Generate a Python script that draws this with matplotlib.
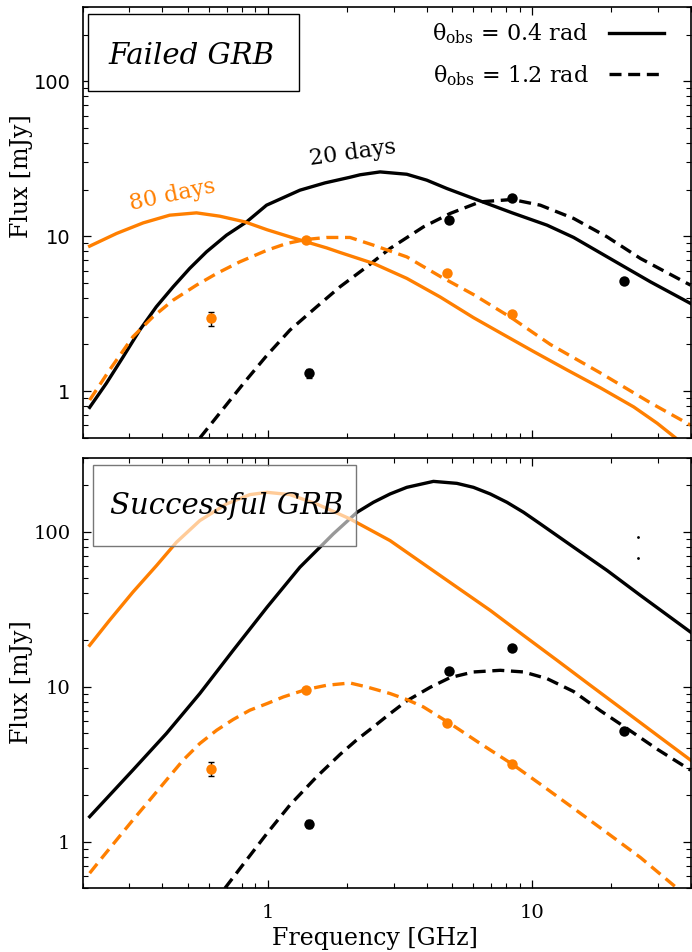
import numpy as np
import matplotlib
matplotlib.use("Agg")
import matplotlib.pyplot as plt
from matplotlib.lines import Line2D
from matplotlib.patches import Rectangle
from matplotlib.ticker import FixedLocator, LogLocator, FuncFormatter, NullFormatter

plt.rcParams["font.family"] = ["DejaVu Serif"]
plt.rcParams["mathtext.fontset"] = "dejavuserif"

# =========================
# Data
# =========================

# measured fluxes [mJy]
obs80_freq = [0.61, 1.4, 4.8, 8.4]
obs80_flux = [2.95, 9.5, 5.8, 3.15]
obs80_err = [0.3, 0.12, 0.08, 0.06]

obs20_freq = [1.43, 4.86, 8.46, 22.4]
obs20_flux = [1.3, 12.7, 17.7, 5.15]
obs20_err = [0.08, 0.1, 0.1, 0.06]

# failed GRB models
fail_04_20_freq = [0.212, 0.245, 0.284, 0.328, 0.379, 0.439, 0.507, 0.587, 0.699, 0.833, 0.991,
                   1.326, 1.649, 2.051, 2.239, 2.667, 3.366, 4.009, 4.773, 6.02, 8.44,
                   11.43, 14.42, 22.45, 28.18, 39.94]
fail_04_20_flux = [0.785, 1.12, 1.665, 2.475, 3.50, 4.71, 6.19, 7.92, 10.15, 12.37, 15.85,
                   19.81, 22.07, 24.0, 24.9, 25.99, 25.1, 22.98, 20.31, 17.51, 14.14,
                   11.78, 9.81, 6.34, 5.07, 3.68]

fail_12_20_freq = [0.555, 0.820, 0.996, 1.215, 1.534, 1.880, 2.374, 2.909, 3.891, 4.91, 6.38,
                   8.44, 10.78, 14.42, 19.30, 25.81, 39.94]
fail_12_20_flux = [0.5, 1.148, 1.707, 2.475, 3.50, 4.71, 6.34, 8.33, 11.48, 14.01, 16.65,
                   17.25, 15.85, 13.01, 9.90, 7.18, 4.83]

fail_04_80_freq = [0.212, 0.268, 0.338, 0.426, 0.538, 0.659, 0.820, 0.996, 1.215, 1.397, 1.674,
                   1.880, 2.516, 3.366, 4.503, 6.02, 7.6, 10.17, 13.61, 18.2, 24.35, 29.87, 35.0]
fail_04_80_flux = [8.62, 10.41, 12.18, 13.66, 14.14, 13.46, 12.37, 11.0, 9.90, 9.2, 8.4,
                   7.85, 6.67, 5.34, 4.05, 2.98, 2.38, 1.80, 1.37, 1.05, 0.79, 0.62, 0.5]

fail_12_80_freq = [0.212, 0.252, 0.309, 0.368, 0.439, 0.538, 0.642, 0.785, 0.996, 1.181, 1.397,
                   1.674, 2.051, 2.516, 3.366, 4.503, 6.02, 8.44, 11.77, 18.2, 28.17, 39.94]
fail_12_80_flux = [0.875, 1.366, 2.24, 3.015, 3.865, 4.83, 5.745, 6.83, 8.12, 8.97, 9.52,
                   9.81, 9.81, 8.75, 7.35, 5.5, 4.2, 2.95, 2.0, 1.31, 0.84, 0.603]

# successful GRB models
succ_04_20_freq = [0.212, 0.309, 0.414, 0.554, 0.741, 0.996, 1.326, 1.774, 2.18, 2.516, 2.909,
                   3.366, 4.246, 5.208, 6.02, 6.97, 8.06, 9.32, 10.78, 14.42, 19.30, 25.81, 39.94]
succ_04_20_flux = [1.449, 2.895, 4.99, 9.03, 17.16, 32.6, 59.0, 96.8, 133.3, 154.7, 175.1,
                   193.2, 211.1, 205.0, 193.2, 175.1, 154.7, 133.3, 112.3, 79.4, 56.2, 38.8, 22.5]

succ_12_20_freq = [0.689, 0.833, 0.996, 1.215, 1.534, 1.880, 2.18, 2.516, 2.909, 3.366, 4.126,
                   4.91, 6.02, 7.60, 9.32, 11.43, 14.42, 18.20, 22.31, 29.87, 39.94]
succ_12_20_flux = [0.5, 0.7625, 1.133, 1.723, 2.621, 3.65, 4.55, 5.5, 6.7, 8.1, 9.9,
                   11.44, 12.44, 12.75, 12.44, 11.27, 9.3, 7.0, 5.55, 3.95, 2.895]

succ_04_80_freq = [0.212, 0.252, 0.309, 0.380, 0.452, 0.554, 0.699, 0.857, 0.996, 1.215, 1.534,
                   2.051, 2.909, 3.891, 5.208, 6.97, 9.32, 12.47, 16.68, 22.31, 29.87, 39.94]
succ_04_80_flux = [18.48, 26.77, 40.73, 60.5, 85.5, 117.9, 151.0, 173.4, 179.4, 173.4, 151.0,
                   120.9, 87.6, 62.0, 43.85, 31.05, 21.4, 14.8, 10.2, 7.05, 4.86, 3.36]

succ_12_80_freq = [0.212, 0.238, 0.268, 0.309, 0.358, 0.414, 0.479, 0.554, 0.642, 0.741, 0.857,
                   0.996, 1.146, 1.397, 1.674, 2.051, 2.374, 2.909, 3.366, 3.891, 4.91, 6.38,
                   8.44, 10.78, 14.42, 19.30, 25.81, 35.56]
succ_12_80_flux = [0.626, 0.8005, 1.025, 1.379, 1.856, 2.497, 3.358, 4.30, 5.24, 6.14, 7.05,
                   7.78, 8.58, 9.58, 10.21, 10.56, 9.96, 9.03, 8.26, 7.40, 5.785, 4.30,
                   3.164, 2.35, 1.64, 1.14, 0.79, 0.5]

# two stray specks in the lower panel
speck_freq = [25.3, 25.3]
speck_flux = [92, 67.8]

ORANGE = "#ff7f00"
LW = 2.4
DASH = (0, (3.6, 2.0))

# =========================
# Figure
# =========================

fig = plt.figure(figsize=(6.92, 9.52), dpi=100)
ax1 = fig.add_axes([0.1199, 0.5402, 0.8782, 0.4521])
ax2 = fig.add_axes([0.1199, 0.0669, 0.8782, 0.4523])


def style(ax):
    ax.set_xscale("log")
    ax.set_yscale("log")
    ax.set_xlim(0.2, 40)
    ax.set_ylim(0.5, 300)
    ax.xaxis.set_major_locator(FixedLocator([1, 10]))
    ax.yaxis.set_major_locator(FixedLocator([1, 10, 100]))
    ax.xaxis.set_minor_locator(LogLocator(subs=np.arange(2, 10)))
    ax.yaxis.set_minor_locator(LogLocator(subs=np.arange(2, 10)))
    fmt = FuncFormatter(lambda v, p: f"{v:g}")
    ax.xaxis.set_major_formatter(fmt)
    ax.yaxis.set_major_formatter(fmt)
    ax.xaxis.set_minor_formatter(NullFormatter())
    ax.yaxis.set_minor_formatter(NullFormatter())
    ax.tick_params(which="both", direction="in", top=True, right=True,
                   labelsize=14, pad=9)
    ax.tick_params(axis="x", pad=11)
    ax.tick_params(which="major", length=6, width=0.9)
    ax.tick_params(which="minor", length=3.5, width=0.8)
    for s in ax.spines.values():
        s.set_linewidth(1.2)
    ax.set_ylabel("Flux [mJy]", fontsize=17)


def data_points(ax):
    ax.errorbar(obs80_freq, obs80_flux, yerr=obs80_err, fmt="o", color=ORANGE,
                ms=7.5, mec="none", ecolor="k", elinewidth=1, capsize=2.5, zorder=6)
    ax.errorbar(obs20_freq, obs20_flux, yerr=obs20_err, fmt="o", color="k",
                ms=7.5, mec="none", ecolor="k", elinewidth=1, capsize=2.5, zorder=6)


# ---- top: failed GRB ----
style(ax1)
ax1.plot(fail_04_20_freq, fail_04_20_flux, color="k", lw=LW)
ax1.plot(fail_12_20_freq, fail_12_20_flux, color="k", lw=LW, ls=DASH)
ax1.plot(fail_04_80_freq, fail_04_80_flux, color=ORANGE, lw=LW)
ax1.plot(fail_12_80_freq, fail_12_80_flux, color=ORANGE, lw=LW, ls=DASH)
data_points(ax1)
ax1.tick_params(labelbottom=False)
for t in ax1.get_yticklabels():
    t.set_family("DejaVu Sans")
ax1.yaxis.set_label_coords(-0.083, 0.608)

ax1.text(0.437, 18.4, "80 days", color=ORANGE, fontsize=16, rotation=12,
         ha="center", va="center")
ax1.text(2.10, 34.3, "20 days", color="k", fontsize=16, rotation=8,
         ha="center", va="center")

ax1.add_patch(Rectangle((0.0087, 0.806), 0.347, 0.178, transform=ax1.transAxes,
                        facecolor="white", edgecolor="k", lw=1.0, zorder=4))
ax1.text(0.179, 0.868, "Failed GRB", style="italic", fontsize=21,
         transform=ax1.transAxes, ha="center", va="baseline", zorder=5)

handles = [Line2D([], [], color="k", lw=LW),
           Line2D([], [], color="k", lw=LW, ls=DASH)]
ax1.legend(handles, [r"θ$_{\rm obs}$ = 0.4 rad", r"θ$_{\rm obs}$ = 1.2 rad"],
           loc="upper right", bbox_to_anchor=(0.98, 1.0), frameon=False,
           fontsize=16, markerfirst=False, handlelength=2.5, handletextpad=0.9,
           labelspacing=0.75, borderaxespad=0.25)

# ---- bottom: successful GRB ----
style(ax2)
ax2.plot(succ_04_20_freq, succ_04_20_flux, color="k", lw=LW)
ax2.plot(succ_12_20_freq, succ_12_20_flux, color="k", lw=LW, ls=DASH)
ax2.plot(succ_04_80_freq, succ_04_80_flux, color=ORANGE, lw=LW)
ax2.plot(succ_12_80_freq, succ_12_80_flux, color=ORANGE, lw=LW, ls=DASH)
data_points(ax2)
ax2.plot(speck_freq, speck_flux, "k.", ms=2)
ax2.yaxis.set_label_coords(-0.083, 0.479)
ax2.set_xlabel("Frequency [GHz]", fontsize=17)
ax2.xaxis.set_label_coords(0.481, -0.09)

ax2.add_patch(Rectangle((0.0165, 0.795), 0.4325, 0.188, transform=ax2.transAxes,
                        facecolor=(1, 1, 1, 0.6), edgecolor="#777777", lw=1.0, zorder=7))
ax2.text(0.236, 0.869, "Successful GRB", style="italic", fontsize=21,
         transform=ax2.transAxes, ha="center", va="baseline", zorder=8)

plt.savefig("out.png", dpi=100)
